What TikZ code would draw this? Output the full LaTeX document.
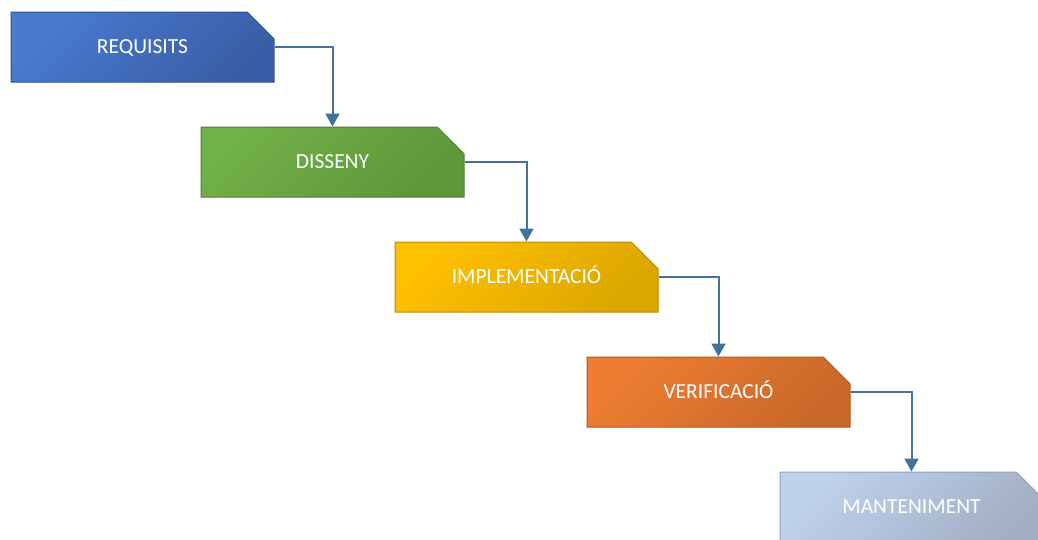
\documentclass[tikz,border=0pt]{standalone}
\usepackage{fontspec}
\setmainfont{Carlito}
\usetikzlibrary{shapes.misc,arrows.meta}
\definecolor{arrowblue}{RGB}{65,113,156}
\tikzset{
  phase/.style={chamfered rectangle, chamfered rectangle corners=north east,
    chamfered rectangle xsep=20pt, chamfered rectangle ysep=20pt,
    minimum width=263pt, minimum height=70pt, inner sep=0pt,
    text height=13.5pt, text depth=0pt,
    line width=1pt, text=white, font=\fontsize{21.5}{26}\selectfont},
  flow/.style={line width=2pt, draw=arrowblue, -{Triangle[width=14pt,length=13pt]}}
}
\begin{document}
\begin{tikzpicture}[x=1pt,y=-1pt]
  \useasboundingbox (0,0) rectangle (1038,539);
  \clip (0,0) rectangle (1038,539);
  % fases
  \node[phase, draw={rgb,255:red,47;green,82;blue,143}, left color={rgb,255:red,72;green,122;blue,208}, middle color={rgb,255:red,62;green,100;blue,174}, right color={rgb,255:red,58;green,94;blue,165}, shading angle=45] (req) at (142.5,47) {REQUISITS};
  \node[phase, draw={rgb,255:red,80;green,126;blue,50}, left color={rgb,255:red,114;green,176;blue,72}, middle color={rgb,255:red,100;green,157;blue,62}, right color={rgb,255:red,94;green,150;blue,58}, shading angle=45] (dis) at (332.5,162) {DISSENY};
  \node[phase, draw={rgb,255:red,188;green,140;blue,0}, left color={rgb,255:red,255;green,192;blue,0}, middle color={rgb,255:red,228;green,172;blue,0}, right color={rgb,255:red,218;green,166;blue,0}, shading angle=45] (imp) at (526.5,277) {IMPLEMENTACIÓ};
  \node[phase, draw={rgb,255:red,174;green,90;blue,33}, left color={rgb,255:red,237;green,125;blue,49}, middle color={rgb,255:red,210;green,109;blue,44}, right color={rgb,255:red,201;green,104;blue,42}, shading angle=45] (ver) at (718.5,392) {VERIFICACIÓ};
  \node[phase, draw={rgb,255:red,143;green,160;blue,186}, left color={rgb,255:red,191;green,210;blue,236}, middle color={rgb,255:red,170;green,186;blue,209}, right color={rgb,255:red,162;green,176;blue,198}, shading angle=45] (man) at (911.5,507) {MANTENIMENT};
  % fletxes
  \draw[flow] (req.east) -| (dis.north);
  \draw[flow] (dis.east) -| (imp.north);
  \draw[flow] (imp.east) -| (ver.north);
  \draw[flow] (ver.east) -| (man.north);
\end{tikzpicture}
\end{document}
